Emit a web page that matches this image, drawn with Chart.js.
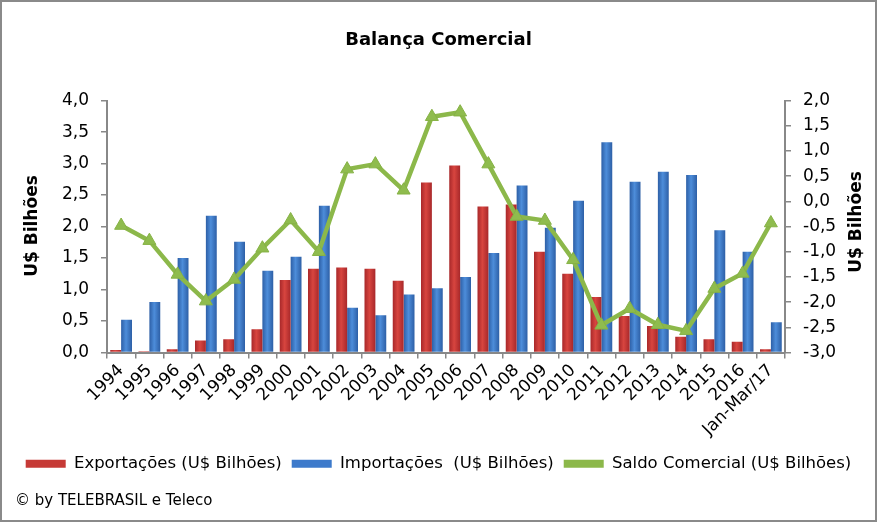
<!DOCTYPE html>
<html><head><meta charset="utf-8">
<script src="https://cdn.jsdelivr.net/npm/chart.js@4.4.0/dist/chart.umd.min.js"></script>
<style>html,body{margin:0;padding:0;background:#fff;overflow:hidden}</style>
</head><body>
<canvas id="c" width="877" height="522"></canvas>
<script>
const categories = ['1994','1995','1996','1997','1998','1999','2000','2001','2002','2003','2004','2005','2006','2007','2008','2009','2010','2011','2012','2013','2014','2015','2016','Jan-Mar/17'];
const exportacoes = [0.04,0.02,0.05,0.19,0.21,0.37,1.15,1.33,1.35,1.33,1.14,2.70,2.97,2.32,2.35,1.60,1.25,0.88,0.58,0.42,0.25,0.21,0.17,0.05];
const importacoes = [0.52,0.80,1.50,2.17,1.76,1.30,1.52,2.33,0.71,0.59,0.92,1.02,1.20,1.58,2.65,1.98,2.41,3.34,2.71,2.87,2.82,1.94,1.60,0.48];
const saldo = [-0.48,-0.78,-1.45,-1.98,-1.55,-0.93,-0.37,-1.00,0.64,0.74,0.22,1.68,1.77,0.74,-0.30,-0.38,-1.16,-2.46,-2.13,-2.45,-2.57,-1.73,-1.43,-0.43];
const seriesNames = ['Exportações (U$ Bilhões)','Importações  (U$ Bilhões)','Saldo Comercial (U$ Bilhões)'];
const chartTitle = 'Balança Comercial';
const axisTitle = 'U$ Bilhões';
const credit = '© by TELEBRASIL e Teleco';

const FONT = '"DejaVu Sans", sans-serif';
const CAT_PCT = 0.77;
const fmt = v => Number(v).toFixed(1).replace('.', ',');
const legendFill = ['#C63A36', '#3D7ACB', '#8CB84A'];

function barGradient(c, side, dark, light) {
  const chart = c.chart, xs = chart.scales.x;
  if (!xs || !xs.width) return light;
  const cx = xs.getPixelForValue(c.dataIndex);
  const w = xs.width / categories.length * CAT_PCT / 2;
  const x0 = side < 0 ? cx - w : cx;
  const g = chart.ctx.createLinearGradient(x0, 0, x0 + w, 0);
  g.addColorStop(0, dark); g.addColorStop(0.45, light); g.addColorStop(1, dark);
  return g;
}

const decor = {
  id: 'decor',
  beforeDraw(chart) {
    const ctx = chart.ctx; ctx.save(); ctx.fillStyle = '#fff';
    ctx.fillRect(0, 0, chart.width, chart.height); ctx.restore();
  },
  afterDraw(chart) {
    const ctx = chart.ctx;
    ctx.save();
    ctx.strokeStyle = '#8a8a8a'; ctx.lineWidth = 2;
    ctx.strokeRect(1, 1, chart.width - 2, chart.height - 2);
    ctx.fillStyle = '#000'; ctx.font = 'bold 17px ' + FONT;
    ctx.textAlign = 'center'; ctx.textBaseline = 'middle';
    [[33, 226], [857, 222]].forEach(([x, y]) => {
      ctx.save(); ctx.translate(x, y); ctx.rotate(-Math.PI / 2);
      ctx.fillText(axisTitle, 0, 0); ctx.restore();
    });
    ctx.font = '15px ' + FONT; ctx.textAlign = 'left';
    ctx.fillText(credit, 15, 501);
    ctx.restore();
  }
};

const axisGray = '#888888';
new Chart(document.getElementById('c'), {
  data: {
    labels: categories,
    datasets: [
      { type: 'bar', label: seriesNames[0], data: exportacoes, yAxisID: 'y', order: 1,
        backgroundColor: c => barGradient(c, -1, '#A8282A', '#D8453F'),
        categoryPercentage: CAT_PCT, barPercentage: 1 },
      { type: 'bar', label: seriesNames[1], data: importacoes, yAxisID: 'y', order: 1,
        backgroundColor: c => barGradient(c, 1, '#2D5FA6', '#4D8DDA'),
        categoryPercentage: CAT_PCT, barPercentage: 1 },
      { type: 'line', label: seriesNames[2], data: saldo, yAxisID: 'y1', order: 0,
        borderColor: '#8CB84A', backgroundColor: '#8CB84A', borderWidth: 4.5,
        pointStyle: 'triangle', pointRadius: 7.5, pointHoverRadius: 7.5,
        pointBackgroundColor: '#8FBC4E', pointBorderColor: '#86B245', pointBorderWidth: 1,
        tension: 0, fill: false }
    ]
  },
  options: {
    responsive: false, animation: false,
    layout: { padding: { left: 0, right: 0, top: 0, bottom: 40 } },
    plugins: {
      title: { display: true, text: chartTitle, color: '#000',
        font: { family: FONT, size: 18, weight: 'bold' }, padding: { top: 30, bottom: 49 } },
      legend: { position: 'bottom',
        labels: { color: '#000', font: { family: FONT, size: 16.5 }, boxWidth: 40, boxHeight: 8, padding: 10,
          sort: (a, b) => a.datasetIndex - b.datasetIndex,
          generateLabels(chart) {
            const items = Chart.defaults.plugins.legend.labels.generateLabels(chart);
            items.forEach(it => {
              it.lineWidth = 0;
              it.fillStyle = legendFill[it.datasetIndex];
            });
            return items;
          } } },
      tooltip: { enabled: false }
    },
    scales: {
      x: { offset: true,
        grid: { offset: true, drawOnChartArea: false, tickLength: 6, color: axisGray, lineWidth: 1.5 },
        border: { color: axisGray, width: 2 },
        ticks: { autoSkip: false, minRotation: 45, maxRotation: 45, padding: 2, color: '#000',
          font: { family: FONT, size: 17 } },
        afterFit(s) { s.height = 93; } },
      y: { position: 'left', min: 0, max: 4,
        grid: { drawOnChartArea: false, tickLength: 6, color: axisGray, lineWidth: 1.5 },
        border: { color: axisGray, width: 2 },
        ticks: { stepSize: 0.5, padding: 12, color: '#000', font: { family: FONT, size: 17 }, callback: v => fmt(v) },
        afterFit(s) { s.width = 107; } },
      y1: { position: 'right', min: -3, max: 2,
        grid: { drawOnChartArea: false, tickLength: 6, color: axisGray, lineWidth: 1.5 },
        border: { color: axisGray, width: 2 },
        ticks: { stepSize: 0.5, padding: 12, color: '#000', font: { family: FONT, size: 17 }, callback: v => fmt(v) },
        afterFit(s) { s.width = 92; } }
    }
  },
  plugins: [decor]
});
</script>
</body></html>
